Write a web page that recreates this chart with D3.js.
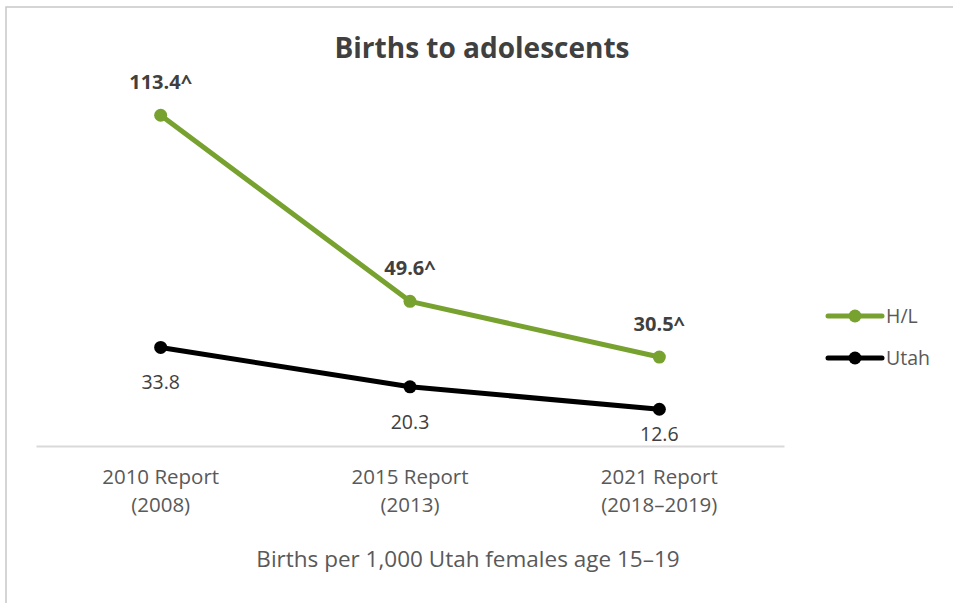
<!DOCTYPE html>
<html>
<head>
<meta charset="utf-8">
<script src="https://cdn.jsdelivr.net/npm/d3@7"></script>
<style>
  body { margin: 0; background: #fff; }
  svg { display: block; font-family: "Open Sans", sans-serif; }
</style>
</head>
<body>
<svg id="chart"></svg>
<script>
const width = 953
const height = 603

const categories = ["2010 Report|(2008)", "2015 Report|(2013)", "2021 Report|(2018–2019)"]
const hlValues = [113.4, 49.6, 30.5]
const utahValues = [33.8, 20.3, 12.6]
const hlLabels = ["113.4^", "49.6^", "30.5^"]
const seriesNames = ["H/L", "Utah"]

const green = "#78a22f"
const black = "#000000"

const svg = d3.select("#chart")
    .attr("width", width)
    .attr("height", height)

// frame with a soft shadow
svg.append("rect")
    .attr("x", 8).attr("y", 9)
    .attr("width", width + 20).attr("height", height + 20)
    .attr("fill", "#e6e6e6")
svg.append("rect")
    .attr("x", 6).attr("y", 7)
    .attr("width", width + 20).attr("height", height + 20)
    .attr("fill", "#fff")
    .attr("stroke", "#c8c8c8")
    .attr("stroke-width", 1.5)

const x = d3.scalePoint()
    .domain(categories)
    .range([36, 784])
    .padding(0.5)

const y = d3.scaleLinear()
    .domain([0, 120])
    .range([446, 96])

svg.append("text")
    .attr("x", 482).attr("y", 58)
    .attr("text-anchor", "middle")
    .attr("font-size", 28)
    .attr("font-weight", "bold")
    .attr("fill", "#404040")
    .text("Births to adolescents")

// baseline + category labels
const xAxis = svg.append("g")
    .attr("transform", `translate(0,${y(0)})`)
    .call(d3.axisBottom(x).tickSize(0).tickFormat(""))
xAxis.select(".domain").attr("stroke", "#d9d9d9").attr("stroke-width", 2)

const tick = svg.append("g")
    .selectAll("text")
    .data(categories)
    .join("text")
    .attr("text-anchor", "middle")
    .attr("font-size", 20.5)
    .attr("fill", "#595959")
tick.selectAll("tspan")
    .data(d => d.split("|").map(s => ({ s, c: d })))
    .join("tspan")
    .attr("x", d => x(d.c))
    .attr("y", (d, i) => y(0) + 38 + i * 28)
    .text(d => d.s)

svg.append("text")
    .attr("x", 468).attr("y", 567)
    .attr("text-anchor", "middle")
    .attr("font-size", 22.5)
    .attr("fill", "#595959")
    .text("Births per 1,000 Utah females age 15–19")

const line = d3.line()
    .x((d, i) => x(categories[i]))
    .y(d => y(d))

const series = [
    { name: seriesNames[0], values: hlValues, color: green },
    { name: seriesNames[1], values: utahValues, color: black }
]

series.forEach(s => {
    svg.append("path")
        .datum(s.values)
        .attr("fill", "none")
        .attr("stroke", s.color)
        .attr("stroke-width", 5)
        .attr("stroke-linejoin", "round")
        .attr("d", line)
    svg.append("g")
        .selectAll("circle")
        .data(s.values)
        .join("circle")
        .attr("cx", (d, i) => x(categories[i]))
        .attr("cy", d => y(d))
        .attr("r", 6.5)
        .attr("fill", s.color)
})

// data labels
svg.append("g")
    .selectAll("text")
    .data(hlValues)
    .join("text")
    .attr("x", (d, i) => x(categories[i]))
    .attr("y", d => y(d) - 26)
    .attr("text-anchor", "middle")
    .attr("font-size", 20)
    .attr("font-weight", "bold")
    .attr("fill", "#404040")
    .text((d, i) => hlLabels[i])

svg.append("g")
    .selectAll("text")
    .data(utahValues)
    .join("text")
    .attr("x", (d, i) => x(categories[i]))
    .attr("y", d => Math.min(y(d) + 42, y(0) - 5))
    .attr("text-anchor", "middle")
    .attr("font-size", 19.5)
    .attr("fill", "#404040")
    .text(d => d.toFixed(1))

// legend
const legend = svg.append("g")
    .selectAll("g")
    .data(series)
    .join("g")
    .attr("transform", (d, i) => `translate(828,${316 + i * 42})`)
legend.append("line")
    .attr("x1", 0).attr("x2", 54)
    .attr("stroke", d => d.color)
    .attr("stroke-width", 5)
    .attr("stroke-linecap", "round")
legend.append("circle")
    .attr("cx", 27).attr("r", 6.5)
    .attr("fill", d => d.color)
legend.append("text")
    .attr("x", 58).attr("dy", "0.35em")
    .attr("font-size", 19.5)
    .attr("fill", "#595959")
    .text(d => d.name)
</script>
</body>
</html>
